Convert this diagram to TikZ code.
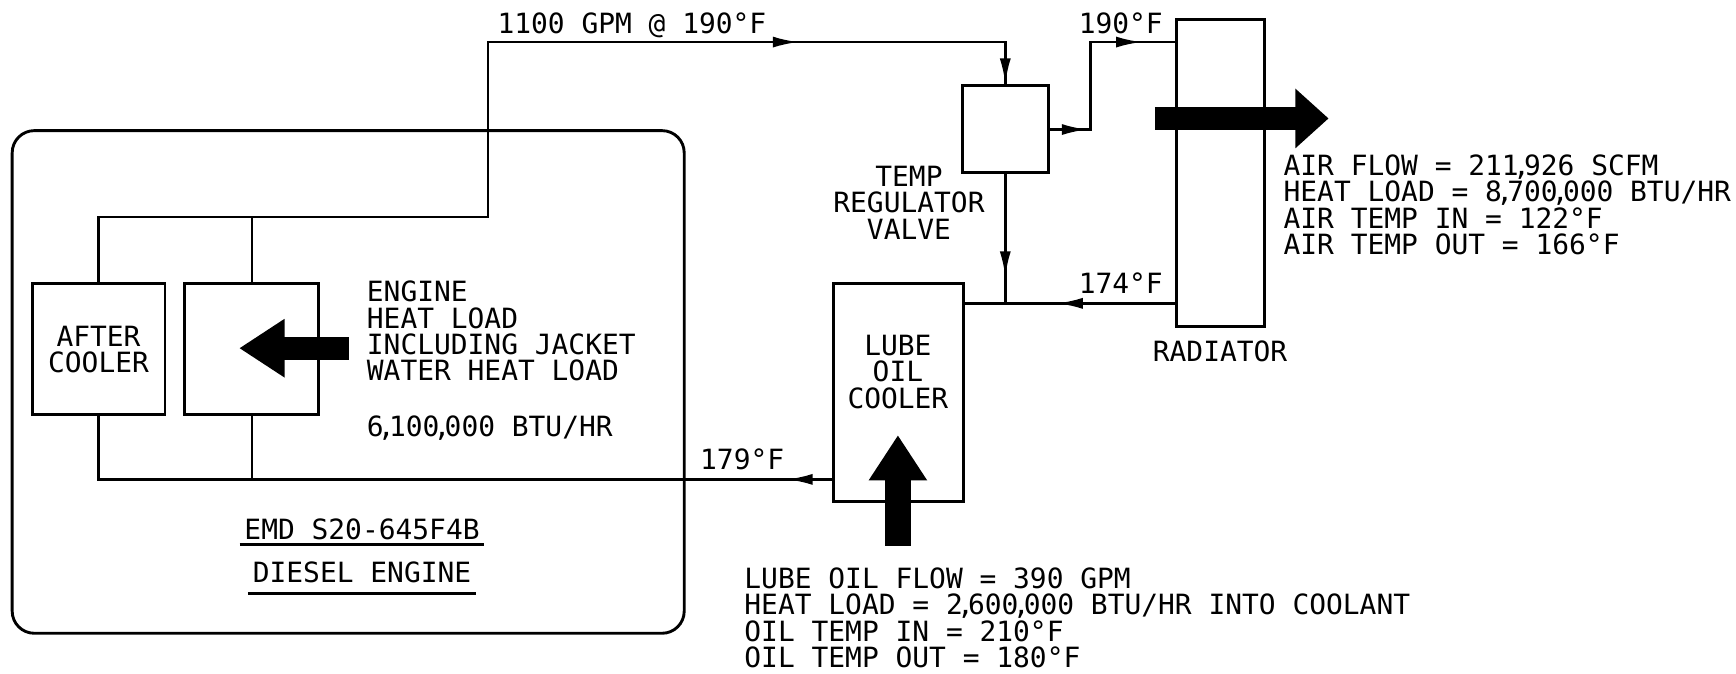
\documentclass[tikz,border=0pt]{standalone}
\usepackage{fontspec}
\usepackage{tikz}
\usetikzlibrary{arrows.meta}
\newfontfamily\plotfont{DejaVu Sans Mono}
\newcommand*{\tick}{\makebox[2.4pt]{,}}
\tikzset{
	unit/.style = {draw, line width=1.3pt, inner sep=0pt},
	label/.style = {font=\plotfont\fontsize{12.6}{11.85}\selectfont, inner sep=0pt, align=center},
	note/.style = {label, align=left, anchor=west},
	pipe/.style = {line width=1.1pt},
	flow/.style = {pipe, -{Latex[length=11.5pt,width=5pt]}},
	heat/.style n args = {3}{line width=#1, -{Triangle[length=#2,width=#3]}},
}
\begin{document}
\begin{tikzpicture}[x=0.5pt,y=-0.5pt]
		\useasboundingbox (0,0) rectangle (1568,608);
		% units
		\node [unit, rounded corners=10pt, minimum width=303.5pt, minimum height=227pt] (engine) at (314.5,345) {};
		\node [unit, minimum width=60pt, minimum height=59pt] (after) at (89,315) {};
		\node [unit, minimum width=60.5pt, minimum height=59pt] (jacket) at (227.5,315) {};
		\node [unit, minimum width=58.5pt, minimum height=98.5pt] (lube) at (811.5,354.5) {};
		\node [unit, minimum width=39pt, minimum height=39.5pt] (valve) at (908,116.5) {};
		\node [unit, minimum width=39.5pt, minimum height=138.5pt] (radiator) at (1102.5,156.5) {};
		% points along the pipes
		\coordinate (outleft) at (after.north |- 0,196);
		\coordinate (outmid) at (jacket.north |- 0,196);
		\coordinate (outright) at (441,196);
		\coordinate (outtop) at (441,38);
		\coordinate (supplyflow) at (721,38);
		\coordinate (supplyend) at (valve.north |- 0,38);
		\coordinate (bypassflow) at (982,117);
		\coordinate (bypasscorner) at (985,117);
		\coordinate (bypasstop) at (985,38);
		\coordinate (hotflow) at (1031,38);
		\coordinate (returnflow) at (955,274);
		\coordinate (junction) at (valve.south |- 0,274);
		\coordinate (mixflow) at (valve.south |- 0,250);
		\coordinate (inleft) at (after.south |- 0,433);
		\coordinate (inmid) at (jacket.south |- 0,433);
		\coordinate (inflow) at (711,433);
		% pipes
		\draw [pipe] (after.north) -- (outleft) -- (outright) -- (outtop) -- (supplyend) -- (valve.north);
		\draw [pipe] (jacket.north) -- (outmid);
		\draw [flow] (outtop) -- (supplyflow);
		\draw [flow] (supplyend) -- (valve.north);
		\draw [pipe] (valve.east |- bypasscorner) -- (bypasscorner) -- (bypasstop) -- (radiator.west |- bypasstop);
		\draw [flow] (valve.east |- bypassflow) -- (bypassflow);
		\draw [flow] (bypasstop) -- (hotflow);
		\draw [pipe] (valve.south) -- (junction);
		\draw [flow] (valve.south) -- (mixflow);
		\draw [pipe] (radiator.west |- returnflow) -- (lube.east |- returnflow);
		\draw [flow] (radiator.west |- returnflow) -- (returnflow);
		\draw [pipe] (lube.west |- inflow) -- (inleft) -- (after.south);
		\draw [flow] (lube.west |- inflow) -- (inflow);
		\draw [pipe] (inmid) -- (jacket.south);
		% heat arrows
		\coordinate (engineheatin) at (315,314.5);
		\coordinate (engineheatout) at (216,314.5);
		\coordinate (oilheatin) at (811,493);
		\coordinate (oilheatout) at (811,393);
		\coordinate (airheatin) at (1043,107);
		\coordinate (airheatout) at (1200,107);
		\draw [heat={10.5pt}{20.5pt}{25pt}] (engineheatin) -- (engineheatout);
		\draw [heat={12pt}{20.5pt}{25pt}] (oilheatin) -- (oilheatout);
		\draw [heat={10.5pt}{15pt}{26pt}] (airheatin) -- (airheatout);
		% labels
		\node [label] (afterlabel) at (89,316) {AFTER\\COOLER};
		\node [label] (lubelabel) at (811,336) {LUBE\\OIL\\COOLER};
		\node [label] (valvelabel) at (821,183) {TEMP\\REGULATOR\\VALVE};
		\node [label] (radiatorlabel) at (1102,317) {RADIATOR};
		\node [note] (supplytemp) at (449,23) {1100 GPM @ 190°F};
		\node [note] (hottemp) at (974,21) {190°F};
		\node [note] (returntemp) at (974,256) {174°F};
		\node [note] (intemp) at (632,415) {179°F};
		\node [note] (enginenote) at (331,299) {ENGINE\\HEAT LOAD\\INCLUDING JACKET\\WATER HEAT LOAD};
		\node [note] (engineload) at (331,387) {6\tick 100\tick 000 BTU/HR};
		\node [note] (airnote) at (1159,185) {AIR FLOW = 211\tick 926 SCFM\\HEAT LOAD = 8\tick 700\tick 000 BTU/HR\\AIR TEMP IN = 122°F\\AIR TEMP OUT = 166°F};
		\node [note] (oilnote) at (672,558) {LUBE OIL FLOW = 390 GPM\\HEAT LOAD = 2\tick 600\tick 000 BTU/HR INTO COOLANT\\OIL TEMP IN = 210°F\\OIL TEMP OUT = 180°F};
		\node [label, inner xsep=2pt, inner ysep=2pt] (model) at (327,478) {EMD S20-645F4B};
		\node [label, inner xsep=2pt, inner ysep=4.5pt] (type) at (327,517) {DIESEL ENGINE};
		\draw [pipe] (model.south west) -- (model.south east);
		\draw [pipe] (type.south west) -- (type.south east);
\end{tikzpicture}
\end{document}
